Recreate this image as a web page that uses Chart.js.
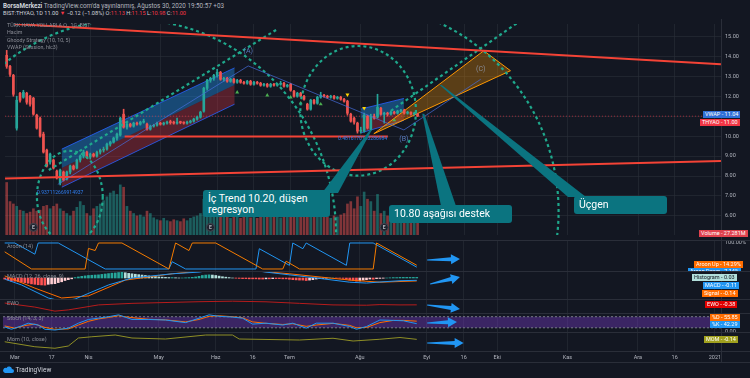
<!DOCTYPE html>
<html>
<head>
<meta charset="utf-8">
<script src="https://cdn.jsdelivr.net/npm/chart.js@4.4.0/dist/chart.umd.min.js"></script>
<style>
body{margin:0;background:#131722;}
#wrap{position:relative;width:750px;height:378px;overflow:hidden;background:#131722;font-family:Roboto,"Liberation Sans",sans-serif;}
.pane{position:absolute;left:0;width:750px;}
.sep{position:absolute;left:0;width:750px;height:1px;background:#2a2e39;}
.vsep{position:absolute;left:721px;top:19px;width:1px;height:344px;background:#2a2e39;}
.tag{position:absolute;font-size:5.5px;line-height:7px;height:7px;padding:0 2px;color:#fff;white-space:nowrap;overflow:hidden;}
.lbl{position:absolute;left:7px;font-size:5.5px;color:#8a8d96;white-space:nowrap;}
.note{position:absolute;background:#0b7480;color:#fff;border-radius:3px;font-size:10.5px;line-height:11px;padding:3px 5px;box-sizing:border-box;white-space:nowrap;}
.hdr{position:absolute;left:3px;white-space:nowrap;color:#b2b5be;}
.r{color:#f23645;}
</style>
</head>
<body>
<div id="wrap">
  <div class="hdr" style="top:2px;font-size:6.3px;"><b style="color:#d1d4dc">BorsaMerkezi</b> TradingView.com'da yayınlanmış, Ağustos 30, 2020 19:50:57 +03</div>
  <div class="hdr" style="top:10px;font-size:5.6px;color:#d1d4dc;">BIST:THYAO, 1D 11.00 <span class="r">▼</span> −0.12 (−1.08%) O:<span class="r">11.13</span> H:<span class="r">11.15</span> L:<span class="r">10.98</span> C:<span class="r">11.00</span></div>

  <div class="pane" style="top:19px;height:221px;"><canvas id="cMain"></canvas></div>
  <div class="pane" style="top:240px;height:31px;"><canvas id="cAroon"></canvas></div>
  <div class="pane" style="top:271px;height:28px;"><canvas id="cMacd"></canvas></div>
  <div class="pane" style="top:299px;height:14px;"><canvas id="cEwo"></canvas></div>
  <div class="pane" style="top:313px;height:19px;"><canvas id="cStoch"></canvas></div>
  <div class="pane" style="top:332px;height:30px;"><canvas id="cMom"></canvas></div>

  <div class="sep" style="top:240px"></div>
  <div class="sep" style="top:271px"></div>
  <div class="sep" style="top:299px"></div>
  <div class="sep" style="top:313px"></div>
  <div class="sep" style="top:332px"></div>
  <div class="sep" style="top:351px"></div>
  <div class="sep" style="top:362px"></div>
  <div class="vsep"></div>

  <div class="lbl" style="top:22px;line-height:7.3px;font-size:5.3px;">TÜRK HAVA YOLLARI A.O., 1G, BIST<br>Hacim<br>Ghoody Strategy (10, 10, 5)<br>VWAP (Session, hlc3)</div>
  <div class="lbl" style="top:243px">Aroon (14)</div>
  <div class="lbl" style="top:273px">MACD (12, 26, close, 9)</div>
  <div class="lbl" style="top:300px">EWO</div>
  <div class="lbl" style="top:315px">Stoch (14, 3, 3)</div>
  <div class="lbl" style="top:336px">Mom (10, close)</div>

  <div class="note" style="left:203px;top:190px;width:127px;height:27px;">İç Trend 10.20, düşen<br>regresyon</div>
  <div class="note" style="left:389px;top:205px;width:123px;height:18px;">10.80 aşağısı destek</div>
  <div class="note" style="left:574px;top:196px;width:93px;height:18px;">Üçgen</div>

  <div class="tag" style="left:703px;top:111px;background:#2f6fd6;">VWAP - 11.04</div>
  <div class="tag" style="left:700px;top:119px;background:#f23645;">THYAO - 11.00</div>
  <div class="tag" style="left:699px;top:230px;background:#e0424e;">Volume - 27.281M</div>
  <div class="tag" style="left:694px;top:261px;background:#ff6d00;">Aroon Up - 14.29%</div>
  <div class="tag" style="left:688px;top:268px;height:3px;background:#2196f3;">Aroon Down - 7.14%</div>
  <div class="tag" style="left:692px;top:274px;background:#b2dfdb;color:#131722;">Histogram - 0.03</div>
  <div class="tag" style="left:703px;top:282px;background:#2196f3;">MACD - -0.11</div>
  <div class="tag" style="left:702px;top:289.5px;background:#ff6d00;">Signal - -0.14</div>
  <div class="tag" style="left:705px;top:301px;background:#e00000;">EWO - -0.38</div>
  <div class="tag" style="left:710px;top:313.5px;background:#ff6d00;">%D - 55.85</div>
  <div class="tag" style="left:710px;top:321px;background:#2196f3;">%K - 42.29</div>
  <div class="tag" style="left:704px;top:335.5px;background:#a0a01e;">MOM - -0.14</div>

  <div style="position:absolute;left:3px;top:366px;font-size:6.5px;color:#d1d4dc;white-space:nowrap;">
    <svg width="11" height="7" style="vertical-align:-1px"><path d="M2 7h7a2 2 0 0 0 0-4a3 3 0 0 0-5.5-1a2 2 0 0 0-1.5 5z" fill="#2196f3"/></svg> TradingView
  </div>
</div>

<script>
// bar 0 = 26 Şubat 2020 ... bar 123 = 28 Ağustos 2020 (işlem günleri)
const opens = [14.05,13.5,13.05,10.4,12.15,11.95,12.15,12.0,11.9,11.05,10.9,10.1,9.3,8.7,8.8,8.25,7.65,8.2,7.85,8.2,
  8.5,8.4,8.8,9.0,9.2,8.95,9.1,9.0,9.2,9.3,9.35,9.6,9.7,9.9,10.05,11.1,10.45,10.6,10.5,10.65,
  10.6,10.7,10.6,10.35,10.5,10.55,10.65,10.6,10.65,10.7,10.7,10.65,10.7,10.68,10.65,10.7,10.75,10.85,10.95,11.25,
  12.4,12.8,12.9,13.05,13.2,12.85,12.9,12.75,12.85,12.7,12.8,12.7,12.65,12.75,12.6,12.7,12.65,12.55,12.6,12.5,
  12.6,12.55,12.6,12.65,12.5,12.6,12.25,12.0,12.15,12.0,11.6,11.35,11.8,11.65,11.95,12.05,12.0,11.95,12.0,11.9,
  11.95,11.85,11.75,11.1,10.9,10.65,10.25,10.25,11.0,10.35,11.0,10.95,11.4,11.1,11.15,11.1,11.2,11.15,11.25,11.3,
  11.15,11.2,11.1,11.13];
const highs = [14.3,13.55,13.1,12.0,12.2,12.3,12.2,12.05,11.95,11.1,10.95,10.2,9.35,9.15,8.85,8.3,8.35,8.25,8.25,8.55,
  8.55,8.85,9.05,9.3,9.25,9.15,9.15,9.25,9.35,9.45,9.65,9.75,9.95,10.15,10.95,11.35,10.7,10.65,10.7,10.7,
  10.75,10.85,10.65,10.55,10.6,10.7,10.7,10.7,10.75,10.8,10.75,10.9,10.75,10.72,10.75,10.8,10.9,11.0,11.25,12.45,
  12.85,12.95,13.1,13.35,13.25,12.95,12.95,12.9,12.9,12.85,12.85,12.75,12.8,12.8,12.75,12.75,12.7,12.65,12.65,12.65,
  12.65,12.65,12.75,12.7,12.6,12.65,12.3,12.2,12.2,12.05,11.65,11.85,11.85,12.0,12.2,12.1,12.05,12.05,12.05,12.0,
  12.0,11.9,11.8,11.15,10.95,10.7,10.45,11.15,11.05,11.1,11.1,12.1,11.45,11.2,11.2,11.25,11.25,11.3,11.35,11.35,
  11.25,11.22,11.2,11.15];
const lows = [13.4,13.0,12.0,10.3,11.7,11.9,11.6,11.5,11.05,10.35,9.95,9.15,8.45,8.6,8.35,7.85,7.55,7.75,7.8,8.1,
  8.3,8.35,8.7,8.9,8.9,8.85,8.95,8.95,9.1,9.2,9.3,9.5,9.65,9.8,10.0,10.4,10.35,10.45,10.45,10.55,
  10.55,10.65,10.3,10.3,10.45,10.5,10.55,10.55,10.6,10.6,10.6,10.6,10.62,10.6,10.6,10.65,10.7,10.8,10.9,11.2,
  12.3,12.7,12.8,12.95,12.8,12.75,12.7,12.7,12.65,12.65,12.65,12.6,12.6,12.55,12.55,12.6,12.5,12.5,12.45,12.45,
  12.5,12.5,12.55,12.45,12.45,12.25,11.95,11.95,11.95,11.8,11.3,11.3,11.6,11.6,11.9,11.95,11.9,11.9,11.85,11.85,
  11.8,11.7,11.05,10.7,10.6,10.15,10.15,10.2,10.35,10.3,10.85,10.9,11.05,10.65,11.0,11.05,11.1,11.1,11.2,11.1,
  11.1,11.05,11.05,10.98];
const closes = [13.5,13.1,12.1,11.8,11.8,12.2,11.7,11.6,11.1,10.4,10.0,9.2,8.5,9.1,8.4,7.9,8.3,7.8,8.2,8.5,
  8.35,8.8,9.0,9.2,8.95,9.1,9.0,9.2,9.3,9.35,9.6,9.7,9.9,10.1,10.9,10.45,10.6,10.5,10.65,10.6,
  10.7,10.75,10.35,10.5,10.55,10.65,10.6,10.65,10.7,10.68,10.65,10.7,10.68,10.65,10.7,10.75,10.85,10.95,11.2,12.4,
  12.8,12.9,13.05,13.2,12.85,12.9,12.75,12.85,12.7,12.8,12.7,12.65,12.75,12.6,12.7,12.65,12.55,12.6,12.5,12.6,
  12.55,12.6,12.65,12.5,12.55,12.3,12.0,12.15,12.0,11.85,11.35,11.8,11.65,11.95,12.05,12.0,11.95,12.0,11.9,11.95,
  11.85,11.75,11.15,10.75,10.7,10.25,10.3,11.05,10.4,11.0,10.9,11.45,11.1,11.15,11.1,11.2,11.15,11.25,11.3,11.15,
  11.2,11.1,11.12,11.0];
// hacim, milyon lot
const volumes = [110,70,65,60,52,50,45,48,55,50,52,60,62,55,60,65,55,
  50,45,40,50,58,70,62,45,40,55,60,65,72,80,88,92,85,
  105,100,
  60,50,45,40,42,38,50,45,36,32,30,35,30,28,32,30,28,34,30,35,38,40,45,
  75,65,55,50,60,
  45,40,38,35,45,40,35,42,38,36,40,35,38,50,42,45,38,40,36,45,42,
  55,60,45,40,48,70,55,45,42,50,40,38,35,40,38,42,45,
  65,70,55,80,60,90,75,70,50,85,
  45,50,40,38,35,32,34,30,28,30,26,27.281];
const macdHist = [-0.05,-0.1,-0.15,-0.15,-0.18,-0.2,-0.22,-0.25,-0.28,-0.3,-0.32,-0.33,-0.34,-0.3,-0.28,-0.27,-0.22,-0.18,-0.12,-0.08,-0.04,
  0.02,0.05,0.08,0.1,0.12,0.13,0.14,0.15,0.17,0.19,0.21,0.23,0.24,0.26,0.27,0.25,0.22,0.2,0.18,0.16,
  0.14,0.12,0.1,0.08,0.07,0.05,0.04,0.03,0.02,0.02,0.01,0.0,0.0,0.01,0.02,0.03,0.05,0.08,0.12,0.14,0.15,0.14,0.12,
  0.09,0.06,0.04,0.02,0.0,-0.01,-0.02,-0.03,-0.03,-0.04,-0.04,-0.04,-0.05,-0.05,-0.04,-0.04,-0.03,-0.03,-0.03,-0.04,
  -0.04,-0.06,-0.08,-0.09,-0.1,-0.1,-0.12,-0.1,-0.08,-0.05,-0.03,-0.02,-0.01,0.0,0.0,-0.01,-0.01,-0.02,-0.06,-0.1,
  -0.12,-0.15,-0.14,-0.1,-0.08,-0.05,-0.06,-0.03,-0.02,-0.01,0.0,0.01,0.02,0.02,0.03,0.03,0.03,0.03,0.03,0.03];
// [bar, değer]
const macdLine = [[0,-0.05],[5,-0.33],[13,-0.95],[17,-1.1],[21,-1.0],[31,-0.33],[38,0.0],[50,0.2],[58,0.28],[64,0.45],[72,0.42],[78,0.28],[93,0.0],[103,-0.2],[108,-0.24],[112,-0.19],[118,-0.13],[123,-0.11]];
const signalLine = [[0,0.1],[9,-0.48],[17,-0.95],[25,-0.85],[36,-0.1],[50,0.2],[62,0.38],[72,0.38],[85,0.2],[103,-0.1],[112,-0.2],[123,-0.14]];
const aroonUp = [[0,66],[8,0],[24,0],[25,79],[27,71],[28,100],[35,100],[49,0],[51,100],[55,71],[56,100],[63,100],[77,0],[83,0],[84,30],[88,0],[110,0],[111,100],[123,14.29]];
const aroonDown = [[0,100],[3,100],[4,93],[9,57],[10,100],[16,100],[30,0],[49,0],[50,28],[54,0],[75,0],[76,78],[85,14],[86,100],[89,78],[90,100],[102,14],[103,100],[110,100],[123,7.14]];
const ewo = [[0,0.2],[9,-1.1],[15,-2.4],[19,-2.0],[28,-0.4],[38,0.1],[58,0.63],[68,0.8],[78,0.6],[88,0.1],[98,-0.4],[108,-0.5],[112,-0.3],[118,-0.4],[123,-0.38]];
const stochK = [[0,25],[2,12],[5,30],[7,45],[10,35],[12,12],[15,8],[19,18],[22,45],[25,65],[28,72],[31,80],[34,90],[38,65],[43,65],[48,62],[54,48],[58,72],[61,90],[64,82],[68,78],[71,72],[74,40],[78,45],[83,35],[86,45],[90,18],[93,45],[98,45],[103,27],[105,12],[108,27],[112,62],[116,60],[119,58],[121,50],[123,42.29]];
const stochD = [[0,30],[3,18],[6,32],[9,40],[12,22],[15,12],[19,14],[22,35],[25,55],[28,68],[31,76],[34,85],[38,75],[43,66],[48,63],[54,52],[58,65],[61,82],[64,85],[68,80],[71,74],[74,52],[78,44],[83,38],[86,42],[90,28],[93,35],[98,44],[103,33],[105,20],[108,22],[112,48],[116,60],[119,60],[121,58],[123,55.85]];
const mom = [[0,-1.1],[9,-3.1],[15,-3.7],[19,-2.8],[22,0.4],[26,0.9],[33,1.6],[38,0.4],[48,0],[60,1.6],[68,1.6],[70,0],[88,-0.4],[98,0.3],[104,-0.8],[112,-0.1],[118,0.6],[123,-0.14]];

const xTickBars = [3,14,25,46,63,74,85,106,126,137,147,168,189,200,212];
const xTickLabels = ['Mar','17','Nis','May','Haz','16','Tem','Ağu','Eyl','16','Eki','Kas','Ara','16','2021'];
const priceTicks = [6,7,8,9,10,11,12,13,14,15];

// Ghoody sinyalleri [bar, fiyat]
const buySignals = [[69,12.2],[78,12.05],[85,11.95],[88,11.65],[94,11.6],[116,10.8]];
const sellSignals = [[102,12.08],[107,11.4]];
const earnings = [8,61,113];

// çizimler (bar, fiyat)
const redLines = [[[2.5,15.62],[213.8,13.61]],[[-0.5,7.87],[213.8,8.75]],[[35.3,9.98],[114.1,9.98]]];
const channels = [
  {x:[16.5,68.2], up:[9.35,13.42], mid:[8.40,12.56], lo:[7.44,11.60]},
  {x:[106.1,118.9], up:[11.36,11.89], mid:[10.89,11.17], lo:[10.17,10.79]}
];
const wave = [[15.3,7.58],[72.3,13.52],[118.9,10.31],[141.9,12.85]];
const waveLabels = [['(A)',72.3,14.28,'#5a7bbf'],['(B)',118.9,9.83,'#5a7bbf'],['(C)',141.9,13.33,'#8a8d96']];
const triangle = [[109.9,10.12],[142.8,14.28],[150.8,13.28]];
// [merkez bar, merkez fiyat, yarıçap bar, yarıçap fiyat, başlangıç açısı, bitiş açısı]
const fibEllipses = [[18.9,6.96,9.85,2.30,0,2],[36.8,5.05,61.8,10.81,0,2],[105.2,11.27,17.3,3.25,0,2],[103.1,6.24,62.1,10.43,-0.5,0.5]];
const fibLines = [[[12.6,8.30],[80.7,15.33]],[[115.0,11.27],[155.3,15.96]]];
const fibTexts = [['0.937112669914937',9.1,7.15],['0.4816170153286984',99.2,9.87]];
// not işaretçileri: uç (bar, fiyat), taban (sayfa pikseli)
const pointers = [[[109.0,10.31],[322,193],[338,193]],[[124.7,11.12],[441,206],[456,206]],[[129.9,12.56],[568,197],[586,197]]];
const arrows = {
  aroon: [[126.1,34.6],[135.9,38.5]],
  macd: [[127,-0.285],[135.9,0.05]],
  ewo: [[126.1,-0.43],[135.9,-1.71]],
  stoch: [[126.1,46],[135,51]],
  mom: [[126.1,-1.6],[137,-1.6]]
};

const X_MIN = -0.507, X_MAX = 213.82;
const UP = '#26a69a', DOWN = '#ef5350';
const GRID = 'rgba(42,46,57,0.6)';
const FIB = '#1fa88c';
Chart.defaults.font.family = 'Roboto, "Liberation Sans", sans-serif';

function xAxis(showLabels) {
  return {
    type: 'linear', min: X_MIN, max: X_MAX, offset: false,
    afterBuildTicks: s => { s.ticks = xTickBars.map(v => ({value: v})); },
    grid: {color: GRID, drawTicks: false, offset: false},
    border: {display: false},
    ticks: {display: showLabels, autoSkip: false, maxRotation: 0, color: '#b2b5be', font: {size: 5.5}, padding: 3,
      callback: (v, i) => xTickLabels[i]},
    afterFit: s => { s.height = showLabels ? 11 : 0; s.paddingLeft = 0; s.paddingRight = 0; }
  };
}
function yAxis(min, max, ticks, fmt) {
  return {
    position: 'right', min: min, max: max,
    afterBuildTicks: s => { s.ticks = ticks.map(v => ({value: v})); },
    grid: {color: ticks.length > 2 ? GRID : 'transparent', drawTicks: false},
    border: {display: false},
    ticks: {color: '#b2b5be', font: {size: 5.5}, padding: 4, callback: fmt},
    afterFit: s => { s.width = 29; s.paddingTop = 0; s.paddingBottom = 0; }
  };
}
function pts(arr) { return arr.map(p => ({x: p[0], y: p[1]})); }
function lineDs(arr, color, w) {
  return {type: 'line', data: pts(arr), borderColor: color, borderWidth: w || 1, pointRadius: 0, tension: 0, fill: false};
}
function baseOpts() {
  return {
    responsive: true, maintainAspectRatio: false, animation: false, events: [],
    layout: {padding: {left: 3, right: 0, top: 0, bottom: 0}},
    plugins: {legend: {display: false}, tooltip: {enabled: false}}
  };
}
function poly(ctx, p, fill, stroke, w) {
  ctx.beginPath();
  p.forEach((q, i) => i ? ctx.lineTo(q[0], q[1]) : ctx.moveTo(q[0], q[1]));
  ctx.closePath();
  if (fill) { ctx.fillStyle = fill; ctx.fill(); }
  if (stroke) { ctx.strokeStyle = stroke; ctx.lineWidth = w || 1; ctx.stroke(); }
}
function seg(ctx, a, b, color, w, dash) {
  ctx.beginPath(); ctx.setLineDash(dash || []);
  ctx.strokeStyle = color; ctx.lineWidth = w;
  ctx.moveTo(a[0], a[1]); ctx.lineTo(b[0], b[1]); ctx.stroke();
  ctx.setLineDash([]);
}
function drawArrow(ctx, a, b, color) {
  const dx = b[0] - a[0], dy = b[1] - a[1], len = Math.hypot(dx, dy);
  const ux = dx / len, uy = dy / len, nx = -uy, ny = ux;
  const hl = 9, hw = 5, sw = 2;
  const hx = b[0] - ux * hl, hy = b[1] - uy * hl;
  poly(ctx, [[a[0] + nx * 0.5, a[1] + ny * 0.5], [hx + nx * sw, hy + ny * sw], [hx + nx * hw, hy + ny * hw], b,
    [hx - nx * hw, hy - ny * hw], [hx - nx * sw, hy - ny * sw], [a[0] - nx * 0.5, a[1] - ny * 0.5]], color);
}
function arrowPlugin(key) {
  return {
    id: 'arrow_' + key,
    afterDatasetsDraw(chart) {
      const {ctx, scales: {x, y}} = chart;
      const a = arrows[key];
      drawArrow(ctx, [x.getPixelForValue(a[0][0]), y.getPixelForValue(a[0][1])],
        [x.getPixelForValue(a[1][0]), y.getPixelForValue(a[1][1])], '#2196f3');
    }
  };
}

const candleColors = closes.map((c, i) => c >= opens[i] ? UP : DOWN);
const volColors = closes.map((c, i) => c >= opens[i] ? 'rgba(38,166,154,0.5)' : 'rgba(239,83,80,0.5)');

const drawings = {
  id: 'drawings',
  beforeDatasetsDraw(chart) {
    const {ctx, chartArea: a} = chart;
    const X = v => chart.scales.x.getPixelForValue(v), Y = v => chart.scales.y.getPixelForValue(v);
    ctx.save();
    ctx.beginPath(); ctx.rect(a.left, a.top, a.width, a.height); ctx.clip();
    channels.forEach(c => {
      poly(ctx, [[X(c.x[0]), Y(c.up[0])], [X(c.x[1]), Y(c.up[1])], [X(c.x[1]), Y(c.mid[1])], [X(c.x[0]), Y(c.mid[0])]], 'rgba(33,150,243,0.4)');
      poly(ctx, [[X(c.x[0]), Y(c.mid[0])], [X(c.x[1]), Y(c.mid[1])], [X(c.x[1]), Y(c.lo[1])], [X(c.x[0]), Y(c.lo[0])]], 'rgba(242,54,69,0.3)');
      seg(ctx, [X(c.x[0]), Y(c.up[0])], [X(c.x[1]), Y(c.up[1])], 'rgba(41,98,255,0.8)', 1);
      seg(ctx, [X(c.x[0]), Y(c.lo[0])], [X(c.x[1]), Y(c.lo[1])], 'rgba(41,98,255,0.8)', 1);
    });
    poly(ctx, triangle.map(p => [X(p[0]), Y(p[1])]), 'rgba(255,152,0,0.3)', '#ff9800', 1);
    // 11.00 fiyat çizgisi
    seg(ctx, [a.left, Y(closes[closes.length - 1])], [a.right, Y(closes[closes.length - 1])], 'rgba(242,54,69,0.6)', 1, [1, 2]);
    ctx.restore();
  },
  afterDatasetsDraw(chart) {
    const {ctx, chartArea: a} = chart;
    const X = v => chart.scales.x.getPixelForValue(v), Y = v => chart.scales.y.getPixelForValue(v);
    ctx.save();
    ctx.beginPath(); ctx.rect(a.left, a.top, a.width, a.height); ctx.clip();
    // fibonacci daireleri
    ctx.strokeStyle = FIB; ctx.lineWidth = 2.2; ctx.setLineDash([3, 3]);
    fibEllipses.forEach(e => {
      const cx = X(e[0]), cy = Y(e[1]);
      const rx = Math.abs(X(e[0] + e[2]) - cx), ry = Math.abs(Y(e[1] + e[3]) - cy);
      ctx.beginPath(); ctx.ellipse(cx, cy, rx, ry, 0, e[4] * Math.PI, e[5] * Math.PI); ctx.stroke();
    });
    ctx.setLineDash([]);
    fibLines.forEach(l => seg(ctx, [X(l[0][0]), Y(l[0][1])], [X(l[1][0]), Y(l[1][1])], FIB, 2.2, [3, 3]));
    // trend çizgileri
    redLines.forEach(l => seg(ctx, [X(l[0][0]), Y(l[0][1])], [X(l[1][0]), Y(l[1][1])], '#f44336', 2));
    // elliott dalgası
    ctx.beginPath(); ctx.strokeStyle = 'rgba(70,110,220,0.7)'; ctx.lineWidth = 1;
    wave.forEach((p, i) => i ? ctx.lineTo(X(p[0]), Y(p[1])) : ctx.moveTo(X(p[0]), Y(p[1])));
    ctx.stroke();
    ctx.font = '7px Roboto, sans-serif'; ctx.textAlign = 'center'; ctx.textBaseline = 'middle';
    waveLabels.forEach(l => { ctx.fillStyle = l[3]; ctx.fillText(l[0], X(l[1]), Y(l[2])); });
    ctx.font = '5px Roboto, sans-serif'; ctx.textAlign = 'left'; ctx.fillStyle = '#2f7ef0';
    fibTexts.forEach(t => ctx.fillText(t[0], X(t[1]), Y(t[2])));
    // not işaretçileri
    pointers.forEach(p => {
      const tx = X(p[0][0]), ty = Y(p[0][1]);
      const top = chart.canvas.getBoundingClientRect().top - document.getElementById('wrap').getBoundingClientRect().top;
      poly(ctx, [[tx - 1, ty], [tx + 1, ty], [p[2][0], p[2][1] - top], [p[1][0], p[1][1] - top]], '#0b7480');
    });
    // bilanço işaretleri
    const yv = chart.scales.yv;
    ctx.font = 'bold 5px Roboto, sans-serif'; ctx.textAlign = 'center'; ctx.fillStyle = '#b2b5be';
    earnings.forEach(b => ctx.fillText('E', X(b), yv.getPixelForValue(16)));
    ctx.restore();
  }
};

new Chart(document.getElementById('cMain'), {
  type: 'bar',
  data: {datasets: [
    {type: 'scatter', data: buySignals.map(p => ({x: p[0], y: p[1]})), pointStyle: 'triangle', pointRadius: 2.3, backgroundColor: '#4caf50', borderWidth: 0, order: 0},
    {type: 'scatter', data: sellSignals.map(p => ({x: p[0], y: p[1]})), pointStyle: 'triangle', rotation: 180, pointRadius: 2.3, backgroundColor: '#ffd600', borderWidth: 0, order: 0},
    {data: closes.map((c, i) => ({x: i, y: [opens[i], c]})), backgroundColor: candleColors, barThickness: 2, minBarLength: 1, grouped: false, order: 1},
    {data: closes.map((c, i) => ({x: i, y: [lows[i], highs[i]]})), backgroundColor: candleColors, barThickness: 1, grouped: false, order: 2},
    {type: 'scatter', yAxisID: 'yv', data: earnings.map(b => ({x: b, y: 16})), pointRadius: 4, backgroundColor: '#1e222d', borderColor: '#434651', borderWidth: 1, order: 3},
    {yAxisID: 'yv', data: volumes.map((v, i) => ({x: i, y: v})), backgroundColor: volColors, barThickness: 2, grouped: false, order: 10}
  ]},
  options: Object.assign(baseOpts(), {
    scales: {
      x: xAxis(false),
      y: yAxis(5.043, 15.622, priceTicks, v => v.toFixed(2)),
      yv: {display: false, position: 'left', min: 0, max: 442}
    }
  }),
  plugins: [drawings]
});

new Chart(document.getElementById('cAroon'), {
  type: 'line',
  data: {datasets: [lineDs(aroonUp, '#f57c00'), lineDs(aroonDown, '#2196f3')]},
  options: Object.assign(baseOpts(), {scales: {x: xAxis(false), y: yAxis(-7.7, 111.5, [100], v => v.toFixed(2) + '%')}}),
  plugins: [arrowPlugin('aroon')]
});

const histColors = macdHist.map((h, i) => {
  const prev = i ? macdHist[i - 1] : h;
  if (h >= 0) return h >= prev ? '#26a69a' : '#b2dfdb';
  return h <= prev ? '#ff5252' : '#ffcdd2';
});
new Chart(document.getElementById('cMacd'), {
  type: 'bar',
  data: {datasets: [
    Object.assign(lineDs(macdLine, '#2196f3'), {order: 0}),
    Object.assign(lineDs(signalLine, '#ff6d00'), {order: 1}),
    {data: macdHist.map((h, i) => ({x: i, y: h})), backgroundColor: histColors, barThickness: 2, order: 2}
  ]},
  options: Object.assign(baseOpts(), {scales: {x: xAxis(false), y: yAxis(-0.998, 0.3325, [], v => '')}}),
  plugins: [arrowPlugin('macd')]
});

new Chart(document.getElementById('cEwo'), {
  type: 'line',
  data: {datasets: [lineDs(ewo, '#b71c1c')]},
  options: Object.assign(baseOpts(), {scales: {x: xAxis(false), y: yAxis(-3, 1.5, [], v => '')}}),
  plugins: [arrowPlugin('ewo')]
});

const stochBand = {
  id: 'band',
  beforeDatasetsDraw(chart) {
    const {ctx, chartArea: a, scales: {y}} = chart;
    const t = y.getPixelForValue(80), b = y.getPixelForValue(20);
    ctx.save();
    ctx.fillStyle = 'rgba(120,60,200,0.4)';
    ctx.fillRect(a.left, t, a.width, b - t);
    seg(ctx, [a.left, t], [a.right, t], '#787b86', 1, [2, 2]);
    seg(ctx, [a.left, b], [a.right, b], '#787b86', 1, [2, 2]);
    ctx.restore();
  }
};
new Chart(document.getElementById('cStoch'), {
  type: 'line',
  data: {datasets: [lineDs(stochK, '#2196f3'), lineDs(stochD, '#ff6d00')]},
  options: Object.assign(baseOpts(), {scales: {x: xAxis(false), y: yAxis(-2.7, 100, [0], v => '0.00')}}),
  plugins: [stochBand, arrowPlugin('stoch')]
});

new Chart(document.getElementById('cMom'), {
  type: 'line',
  data: {datasets: [lineDs(mom, '#8f8f26')]},
  options: Object.assign(baseOpts(), {scales: {x: xAxis(true), y: yAxis(-4.8, 2.8, [], v => '')}}),
  plugins: [arrowPlugin('mom')]
});
</script>
</body>
</html>
